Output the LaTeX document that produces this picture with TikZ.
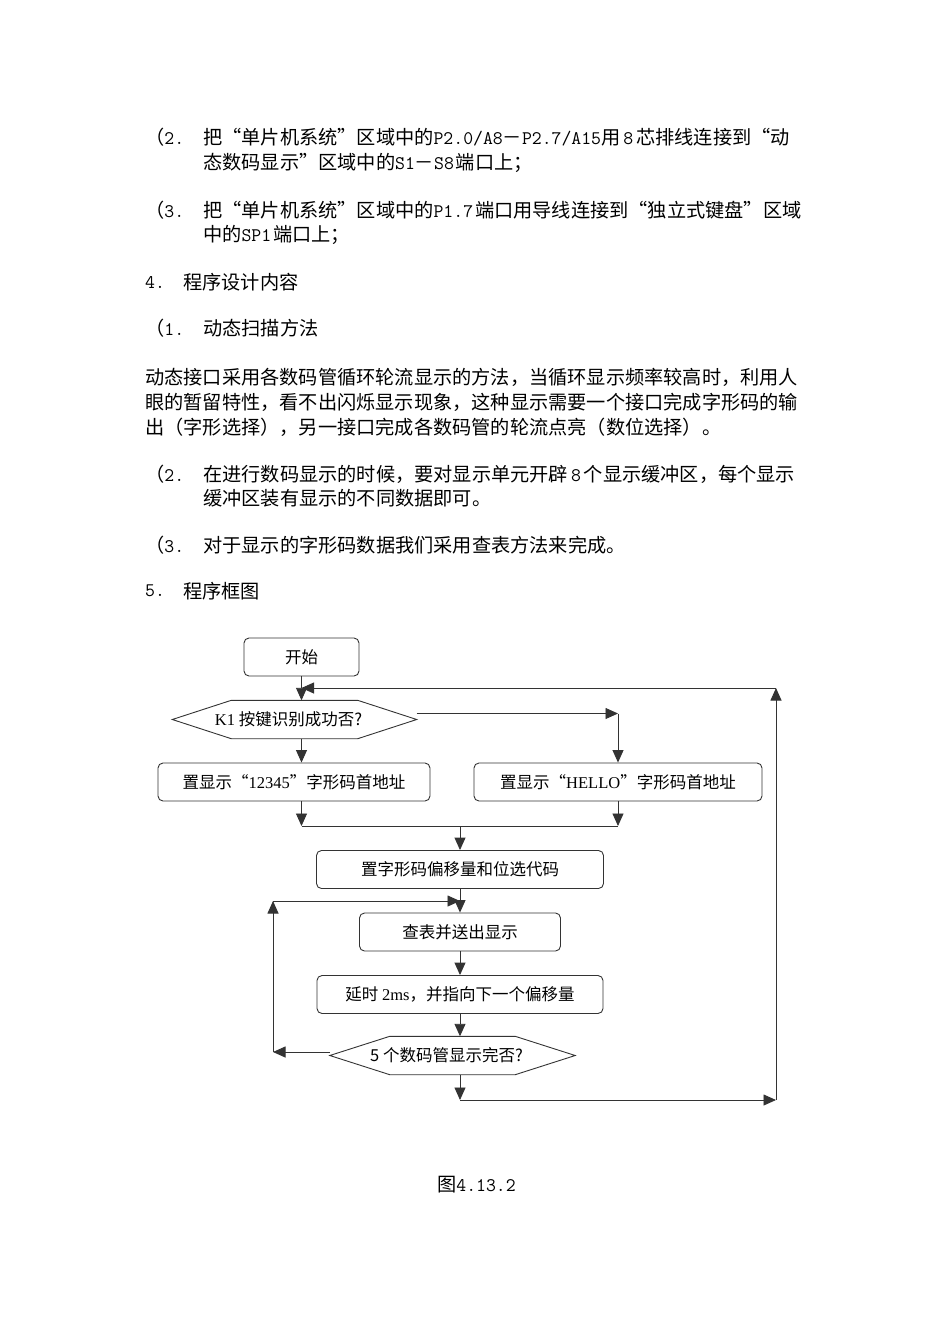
\documentclass[tikz,border=0pt]{standalone}
\usepackage{fontspec}
\usetikzlibrary{arrows.meta,calc}
\newfontfamily\cjk{Noto Sans CJK SC}
\newfontfamily\ltn{Liberation Serif}
\newcommand\bodyfont{\cjk\fontsize{19.2}{24}\selectfont}
\newcommand\chartfont{\cjk\fontsize{16.5}{20}\selectfont}
\newcommand\asc[1]{{\ttfamily\fontsize{19.2}{24}\selectfont #1}}
\newcommand\oq{\makebox[1em][r]{“}}
\newcommand\cq{\makebox[1em][l]{”}}
% hexagon outline round a decision node
\newcommand\hexa[2]{\draw[line] (#1.west) -- ($(#1.north west)+(#2,0)$) -- ($(#1.north east)+(-#2,0)$) -- (#1.east) -- ($(#1.south east)+(-#2,0)$) -- ($(#1.south west)+(#2,0)$) -- cycle;}
\tikzset{
  >={Triangle[length=12.5pt,width=11pt]},
  line/.style={line width=0.9pt, draw=black!80},
  box/.style={draw=black!80, line width=0.9pt, rounded corners=5pt, minimum height=38pt, inner sep=0pt, font=\chartfont},
  decision/.style={minimum height=38pt, inner sep=0pt, font=\chartfont},
  txt/.style={anchor=west, inner sep=0pt, font=\bodyfont}
}
\begin{document}
\begin{tikzpicture}[x=1pt,y=-1pt]
\useasboundingbox (0,0) rectangle (950,1344);
% text above the chart
\node at (145,137) (n1) [txt] {（\asc{2.}};
\node at (203,137) (l1) [txt] {把\oq 单片机系统\cq 区域中的\asc{P2.0/A8}－\asc{P2.7/A15}用\hspace{3pt}\asc{8}\hspace{3pt}芯排线连接到\oq 动};
\node at (203,163) (l2) [txt] {态数码显示\cq 区域中的\asc{S1}－\asc{S8}\hspace{2pt}端口上；};
\node at (145,210) (n2) [txt] {（\asc{3.}};
\node at (203,210) (l3) [txt] {把\oq 单片机系统\cq 区域中的\asc{P1.7}\hspace{2pt}端口用导线连接到\oq 独立式键盘\cq 区域};
\node at (203,235) (l4) [txt] {中的\asc{SP1}\hspace{2pt}端口上；};
\node at (145,282) (n3) [txt] {\asc{4.}};
\node at (183,282) (l5) [txt] {程序设计内容};
\node at (145,328) (n4) [txt] {（\asc{1.}};
\node at (203,328) (l6) [txt] {动态扫描方法};
\node at (145,377) (l7) [txt] {动态接口采用各数码管循环轮流显示的方法，当循环显示频率较高时，利用人};
\node at (145,402) (l8) [txt] {眼的暂留特性，看不出闪烁显示现象，这种显示需要一个接口完成字形码的输};
\node at (145,427) (l9) [txt] {出（字形选择），另一接口完成各数码管的轮流点亮（数位选择）。};
\node at (145,474) (n5) [txt] {（\asc{2.}};
\node at (203,474) (l10) [txt] {在进行数码显示的时候，要对显示单元开辟\hspace{3pt}\asc{8}\hspace{3pt}个显示缓冲区，每个显示};
\node at (203,498) (l11) [txt] {缓冲区装有显示的不同数据即可。};
\node at (145,545) (n6) [txt] {（\asc{3.}};
\node at (203,545) (l12) [txt] {对于显示的字形码数据我们采用查表方法来完成。};
\node at (145,591) (n7) [txt] {\asc{5.}};
\node at (183,591) (l13) [txt] {程序框图};
% chart nodes
\node at (301.5,657) (start) [box, minimum width=115pt] {开始};
\node at (294.5,719.5) (k1) [decision, minimum width=244pt] {{\ltn K1} 按键识别成功否?\hspace*{12pt}};
\hexa{k1}{59}
\node at (294,782) (box1) [box, minimum width=272pt] {置显示\oq{\ltn 12345}\cq 字形码首地址};
\node at (618,782) (box2) [box, minimum width=288pt] {置显示\oq{\ltn HELLO}\cq 字形码首地址};
\node at (460,869.5) (box3) [box, minimum width=287pt] {置字形码偏移量和位选代码};
\node at (460,932) (box4) [box, minimum width=201pt] {查表并送出显示};
\node at (460,994.5) (box5) [box, minimum width=286pt] {延时 {\ltn 2ms}，并指向下一个偏移量};
\node at (452.5,1055.5) (dn) [decision, minimum width=245pt] {5 个数码管显示完否?\hspace*{12pt}};
\hexa{dn}{60}
% corner points
\coordinate (rt) at (776,688);
\coordinate (rb) at (776,1100);
\coordinate (mid) at (460,826);
\coordinate (lp) at (273,901);
\coordinate (k1r) at ([yshift=6pt]k1.east);
\coordinate (dnl) at ([yshift=3.5pt]dn.west);
% top part
\draw[line,->] (start.south) -- (start.south |- k1.north);
\draw[line,->] (k1r) -- (k1r -| box2);
\draw[line,->] (k1r -| box2) -- (box2.north);
\draw[line,->] (k1.south -| start) -- (box1.north -| start);
\draw[line,->] (box1.south -| start) -- (mid -| start);
\draw[line,->] (box2.south) -- (mid -| box2);
\draw[line] (mid -| start) -- (mid -| box2);
\draw[line,->] (mid) -- (box3.north);
% inner loop
\draw[line,->] (box3.south) -- (box4.north);
\draw[line,->] (box4.south) -- (box5.north);
\draw[line,->] (box5.south) -- (box5.south |- dn.north);
\draw[line,->] (dnl) -- (dnl -| lp);
\draw[line,->] (dnl -| lp) -- (lp);
\draw[line,->] (lp) -- (lp -| box4);
% outer loop
\draw[line,->] (dn.south -| box5) -- (rb -| box5);
\draw[line,->] (rb -| box5) -- (rb);
\draw[line,->] (rb) -- (rt);
\draw[line,->] (rt) -- (rt -| start);
% caption
\node at (437,1185) (cap) [txt] {图\asc{4.13.2}};
\end{tikzpicture}
\end{document}
